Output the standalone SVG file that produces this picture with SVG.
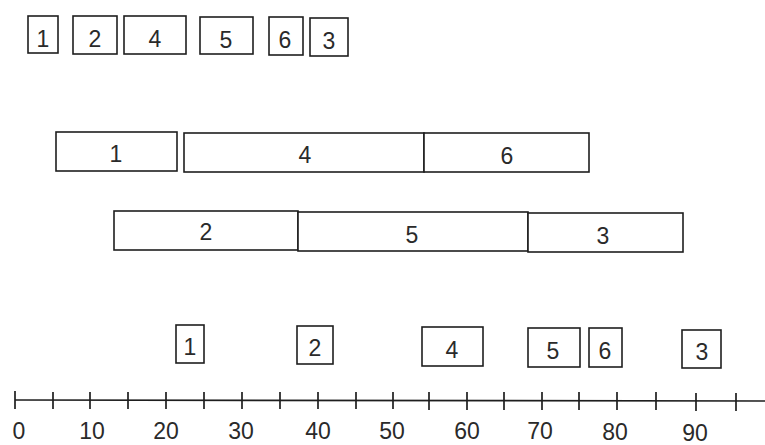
<svg xmlns="http://www.w3.org/2000/svg" width="765" height="445" viewBox="0 0 765 445">
<style>
rect{fill:#fff;stroke:#1e1e1e;stroke-width:1.6}
line{stroke:#1e1e1e;stroke-width:1.7}
text{font-family:"Liberation Sans",Arial,sans-serif;font-size:23px;fill:#2a2a2a;text-anchor:middle}
</style>
<rect x="0" y="0" width="765" height="445" style="stroke:none;fill:#fff"/>
<g id="top-row">
<g id="t1"><rect x="28" y="16" width="30" height="37"/><text x="43" y="47">1</text></g>
<g id="t2"><rect x="73" y="16" width="44" height="38"/><text x="95" y="47">2</text></g>
<g id="t4"><rect x="124" y="16" width="62" height="38"/><text x="155" y="47">4</text></g>
<g id="t5"><rect x="200" y="17" width="53" height="37"/><text x="226" y="48">5</text></g>
<g id="t6"><rect x="269" y="17" width="34" height="38"/><text x="285" y="48">6</text></g>
<g id="t3"><rect x="310" y="18" width="38" height="38"/><text x="329" y="49">3</text></g>
</g>
<g id="row2">
<g id="r2-1"><rect x="56" y="132" width="121" height="39"/><text x="116" y="162">1</text></g>
<g id="r2-4"><rect x="184" y="133" width="240" height="39"/><text x="305" y="163">4</text></g>
<g id="r2-6"><rect x="424" y="133" width="165" height="39"/><text x="507" y="164">6</text></g>
</g>
<g id="row3">
<g id="r3-2"><rect x="114" y="211" width="184" height="39"/><text x="206" y="240">2</text></g>
<g id="r3-5"><rect x="298" y="212" width="230" height="39"/><text x="412" y="243">5</text></g>
<g id="r3-3"><rect x="528" y="213" width="155" height="39"/><text x="603" y="244">3</text></g>
</g>
<g id="bottom-row">
<g id="b1"><rect x="176" y="325" width="28" height="38"/><text x="190" y="355">1</text></g>
<g id="b2"><rect x="297" y="326" width="36" height="38"/><text x="315" y="356">2</text></g>
<g id="b4"><rect x="422" y="327" width="61" height="39"/><text x="452" y="358">4</text></g>
<g id="b5"><rect x="528" y="328" width="52" height="39"/><text x="553" y="359">5</text></g>
<g id="b6"><rect x="589" y="328" width="33" height="39"/><text x="605" y="359">6</text></g>
<g id="b3"><rect x="682" y="330" width="39" height="38"/><text x="702" y="360">3</text></g>
</g>
<g id="axis">
<line x1="15" y1="400" x2="765" y2="401"/>
<line x1="15" y1="391" x2="15" y2="409"/>
<line x1="53" y1="392" x2="53" y2="409"/>
<line x1="90" y1="392" x2="90" y2="409"/>
<line x1="128" y1="392" x2="128" y2="409"/>
<line x1="166" y1="392" x2="166" y2="409"/>
<line x1="204" y1="392" x2="204" y2="409"/>
<line x1="242" y1="392" x2="242" y2="409"/>
<line x1="280" y1="392" x2="280" y2="409"/>
<line x1="318" y1="392" x2="318" y2="409"/>
<line x1="356" y1="392" x2="356" y2="409"/>
<line x1="393" y1="392" x2="393" y2="409"/>
<line x1="429" y1="392" x2="429" y2="410"/>
<line x1="467" y1="392" x2="467" y2="410"/>
<line x1="504" y1="392" x2="504" y2="410"/>
<line x1="542" y1="392" x2="542" y2="410"/>
<line x1="579" y1="392" x2="579" y2="410"/>
<line x1="617" y1="392" x2="617" y2="410"/>
<line x1="656" y1="392" x2="656" y2="410"/>
<line x1="696" y1="393" x2="696" y2="411"/>
<line x1="736" y1="393" x2="736" y2="411"/>
<text x="19" y="439">0</text>
<text x="92" y="439">10</text>
<text x="166" y="439">20</text>
<text x="241" y="439">30</text>
<text x="318" y="439">40</text>
<text x="392" y="439">50</text>
<text x="467" y="439">60</text>
<text x="540" y="439">70</text>
<text x="615" y="440">80</text>
<text x="695" y="441">90</text>
</g>
</svg>
